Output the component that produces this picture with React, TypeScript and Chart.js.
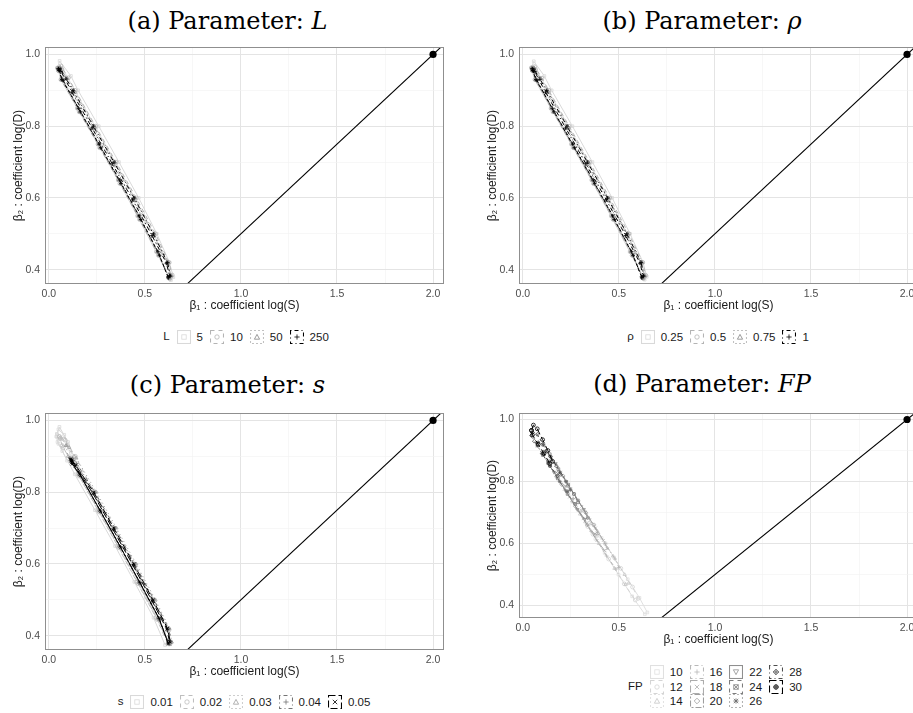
import React, { useEffect, useRef } from "react";
import { Chart, registerables } from "chart.js";

Chart.register(...registerables);

type Pt = [number, number];

// ---------- axes ----------
const X_LIMITS = [-0.02, 2.057];
const Y_LIMITS = [0.36, 1.02];
const X_MAJOR_TICKS = [0, 0.5, 1.0, 1.5, 2.0];
const X_MINOR_TICKS = [0.25, 0.75, 1.25, 1.75];
const Y_MAJOR_TICKS = [0.4, 0.6, 0.8, 1.0];
const Y_MINOR_TICKS = [0.5, 0.7, 0.9];
const X_AXIS_TITLE = "β₁ : coefficient log(S)";
const Y_AXIS_TITLE = "β₂ : coefficient log(D)";

// ---------- reference line beta2 = beta1 / 2 and true value ----------
const REF_LINE_X = [0.5, 2.2];
const REF_LINE_Y = [0.25, 1.1];
const TRUE_BETA1 = [2.0];
const TRUE_BETA2 = [1.0];

// ---------- (a) parameter L ----------
const L_LEVELS = ["5", "10", "50", "250"];
const L_HULL_5A: Pt[] = [[0.045,0.963],[0.056,0.982],[0.115,0.94],[0.152,0.9],[0.26,0.8],[0.365,0.7],[0.468,0.6],[0.562,0.5],[0.628,0.42],[0.648,0.379],[0.636,0.371],[0.558,0.45],[0.46,0.55],[0.36,0.65],[0.255,0.75],[0.148,0.85],[0.062,0.93]];
const L_HULL_5B: Pt[] = [[0.05,0.958],[0.07,0.962],[0.14,0.895],[0.245,0.795],[0.35,0.695],[0.452,0.595],[0.55,0.495],[0.62,0.415],[0.64,0.38],[0.628,0.376],[0.575,0.44],[0.475,0.545],[0.372,0.645],[0.268,0.745],[0.162,0.845],[0.07,0.935]];
const L_HULL_10A: Pt[] = [[0.046,0.962],[0.063,0.968],[0.102,0.935],[0.137,0.9],[0.243,0.8],[0.35,0.7],[0.455,0.6],[0.555,0.5],[0.626,0.42],[0.642,0.385],[0.63,0.374],[0.562,0.45],[0.464,0.55],[0.362,0.65],[0.256,0.75],[0.149,0.85],[0.063,0.93]];
const L_HULL_10B: Pt[] = [[0.05,0.955],[0.068,0.958],[0.128,0.895],[0.235,0.795],[0.34,0.695],[0.445,0.595],[0.545,0.495],[0.618,0.418],[0.636,0.382],[0.626,0.378],[0.57,0.44],[0.472,0.54],[0.37,0.64],[0.265,0.74],[0.158,0.84],[0.07,0.93]];
const L_HULL_50A: Pt[] = [[0.048,0.962],[0.059,0.964],[0.094,0.933],[0.13,0.9],[0.236,0.8],[0.343,0.7],[0.448,0.6],[0.548,0.5],[0.622,0.42],[0.636,0.383],[0.625,0.376],[0.566,0.45],[0.468,0.55],[0.366,0.65],[0.26,0.75],[0.153,0.85],[0.066,0.93]];
const L_HULL_50B: Pt[] = [[0.052,0.957],[0.064,0.955],[0.125,0.893],[0.23,0.793],[0.335,0.693],[0.44,0.593],[0.54,0.493],[0.615,0.418],[0.632,0.383],[0.622,0.379],[0.575,0.44],[0.476,0.54],[0.374,0.64],[0.268,0.74],[0.162,0.84],[0.072,0.928]];
const L_HULL_250A: Pt[] = [[0.05,0.96],[0.059,0.96],[0.09,0.932],[0.126,0.9],[0.232,0.8],[0.339,0.7],[0.444,0.6],[0.544,0.5],[0.618,0.42],[0.632,0.382],[0.622,0.377],[0.568,0.45],[0.47,0.55],[0.368,0.65],[0.262,0.75],[0.155,0.85],[0.068,0.93]];
const L_HULL_250B: Pt[] = [[0.053,0.956],[0.063,0.953],[0.12,0.895],[0.225,0.795],[0.33,0.695],[0.436,0.595],[0.537,0.495],[0.612,0.418],[0.628,0.383],[0.62,0.38],[0.576,0.44],[0.478,0.54],[0.376,0.64],[0.27,0.74],[0.164,0.84],[0.074,0.928]];

// ---------- (b) parameter rho ----------
const RHO_LEVELS = ["0.25", "0.5", "0.75", "1"];
const RHO_HULL_025A: Pt[] = [[0.044,0.962],[0.057,0.981],[0.112,0.94],[0.15,0.9],[0.258,0.8],[0.362,0.7],[0.465,0.6],[0.558,0.5],[0.626,0.42],[0.645,0.38],[0.634,0.372],[0.556,0.45],[0.458,0.55],[0.357,0.65],[0.252,0.75],[0.146,0.85],[0.061,0.93]];
const RHO_HULL_025B: Pt[] = [[0.049,0.957],[0.068,0.96],[0.137,0.895],[0.242,0.795],[0.347,0.695],[0.45,0.595],[0.548,0.495],[0.618,0.415],[0.638,0.381],[0.627,0.377],[0.573,0.44],[0.473,0.545],[0.37,0.645],[0.266,0.745],[0.16,0.845],[0.069,0.934]];
const RHO_HULL_05A: Pt[] = [[0.046,0.963],[0.061,0.966],[0.1,0.934],[0.135,0.9],[0.241,0.8],[0.347,0.7],[0.452,0.6],[0.552,0.5],[0.624,0.42],[0.64,0.384],[0.628,0.375],[0.56,0.45],[0.462,0.55],[0.36,0.65],[0.254,0.75],[0.147,0.85],[0.064,0.93]];
const RHO_HULL_05B: Pt[] = [[0.05,0.955],[0.066,0.957],[0.126,0.895],[0.233,0.795],[0.338,0.695],[0.443,0.595],[0.543,0.495],[0.616,0.418],[0.634,0.382],[0.624,0.378],[0.569,0.44],[0.47,0.54],[0.368,0.64],[0.263,0.74],[0.157,0.84],[0.07,0.93]];
const RHO_HULL_075A: Pt[] = [[0.047,0.962],[0.058,0.963],[0.093,0.933],[0.128,0.9],[0.234,0.8],[0.34,0.7],[0.445,0.6],[0.545,0.5],[0.62,0.42],[0.634,0.383],[0.624,0.376],[0.564,0.45],[0.466,0.55],[0.364,0.65],[0.258,0.75],[0.151,0.85],[0.066,0.93]];
const RHO_HULL_075B: Pt[] = [[0.051,0.956],[0.063,0.954],[0.123,0.893],[0.228,0.793],[0.333,0.693],[0.438,0.593],[0.538,0.493],[0.613,0.418],[0.63,0.383],[0.62,0.379],[0.573,0.44],[0.474,0.54],[0.372,0.64],[0.266,0.74],[0.16,0.84],[0.071,0.928]];
const RHO_HULL_1A: Pt[] = [[0.049,0.96],[0.058,0.959],[0.089,0.931],[0.124,0.9],[0.23,0.8],[0.336,0.7],[0.441,0.6],[0.541,0.5],[0.616,0.42],[0.629,0.382],[0.62,0.377],[0.566,0.45],[0.468,0.55],[0.366,0.65],[0.26,0.75],[0.153,0.85],[0.068,0.93]];
const RHO_HULL_1B: Pt[] = [[0.052,0.955],[0.062,0.952],[0.118,0.895],[0.223,0.795],[0.328,0.695],[0.434,0.595],[0.535,0.495],[0.61,0.418],[0.626,0.383],[0.618,0.38],[0.574,0.44],[0.476,0.54],[0.374,0.64],[0.268,0.74],[0.162,0.84],[0.073,0.928]];

// ---------- (c) parameter s ----------
const S_LEVELS = ["0.01", "0.02", "0.03", "0.04", "0.05"];
const S_HULL_001A: Pt[] = [[0.042,0.962],[0.055,0.982],[0.1,0.94],[0.13,0.9],[0.212,0.8],[0.315,0.7],[0.418,0.6],[0.515,0.5],[0.6,0.41],[0.625,0.378],[0.605,0.374],[0.545,0.45],[0.445,0.55],[0.345,0.65],[0.24,0.75],[0.135,0.85],[0.05,0.935]];
const S_HULL_001B: Pt[] = [[0.04,0.955],[0.05,0.975],[0.08,0.96],[0.1,0.93],[0.112,0.9],[0.095,0.888],[0.07,0.915],[0.045,0.94]];
const S_HULL_002A: Pt[] = [[0.055,0.955],[0.085,0.945],[0.138,0.9],[0.236,0.8],[0.34,0.7],[0.445,0.6],[0.545,0.5],[0.625,0.415],[0.635,0.38],[0.62,0.378],[0.558,0.45],[0.458,0.55],[0.358,0.65],[0.255,0.75],[0.152,0.85],[0.07,0.93]];
const S_HULL_002B: Pt[] = [[0.06,0.95],[0.078,0.948],[0.13,0.897],[0.23,0.797],[0.334,0.697],[0.438,0.597],[0.538,0.497],[0.618,0.417],[0.63,0.382],[0.622,0.38],[0.565,0.445],[0.465,0.545],[0.365,0.645],[0.262,0.745],[0.158,0.845],[0.075,0.925]];
const S_HULL_003A: Pt[] = [[0.09,0.93],[0.105,0.925],[0.143,0.895],[0.248,0.8],[0.352,0.7],[0.455,0.6],[0.555,0.5],[0.628,0.42],[0.64,0.382],[0.63,0.375],[0.568,0.45],[0.468,0.55],[0.366,0.65],[0.262,0.75],[0.157,0.85],[0.1,0.9]];
const S_HULL_004A: Pt[] = [[0.11,0.895],[0.122,0.895],[0.145,0.88],[0.24,0.8],[0.345,0.7],[0.448,0.6],[0.548,0.5],[0.624,0.42],[0.636,0.383],[0.626,0.376],[0.57,0.45],[0.47,0.55],[0.368,0.65],[0.264,0.75],[0.159,0.85],[0.115,0.885]];
const S_HULL_004B: Pt[] = [[0.115,0.89],[0.124,0.888],[0.14,0.875],[0.235,0.795],[0.34,0.695],[0.443,0.595],[0.543,0.495],[0.619,0.418],[0.632,0.384],[0.624,0.38],[0.575,0.445],[0.475,0.545],[0.373,0.645],[0.269,0.745],[0.164,0.845],[0.12,0.882]];
const S_HULL_005A: Pt[] = [[0.113,0.892],[0.12,0.89],[0.14,0.875],[0.234,0.8],[0.338,0.7],[0.442,0.6],[0.542,0.5],[0.618,0.42],[0.632,0.382],[0.622,0.377],[0.572,0.45],[0.472,0.55],[0.37,0.65],[0.266,0.75],[0.161,0.85],[0.118,0.882]];
const S_HULL_005B: Pt[] = [[0.117,0.887],[0.123,0.885],[0.137,0.872],[0.23,0.796],[0.334,0.696],[0.438,0.596],[0.538,0.496],[0.614,0.418],[0.628,0.384],[0.62,0.38],[0.576,0.446],[0.476,0.546],[0.374,0.646],[0.27,0.746],[0.165,0.846],[0.121,0.878]];

// ---------- (d) parameter FP ----------
const FP_LEVELS = ["10", "12", "14", "16", "18", "20", "22", "24", "26", "28", "30"];
const FP_HULL_10: Pt[] = [[0.385,0.625],[0.41,0.618],[0.475,0.555],[0.546,0.485],[0.607,0.425],[0.648,0.378],[0.635,0.372],[0.569,0.43],[0.498,0.5],[0.426,0.57],[0.378,0.615]];
const FP_HULL_12: Pt[] = [[0.345,0.665],[0.37,0.66],[0.429,0.6],[0.51,0.52],[0.571,0.46],[0.6,0.423],[0.585,0.418],[0.528,0.47],[0.447,0.55],[0.365,0.63],[0.338,0.655]];
const FP_HULL_14: Pt[] = [[0.302,0.705],[0.33,0.7],[0.388,0.64],[0.469,0.56],[0.53,0.5],[0.55,0.472],[0.535,0.468],[0.477,0.52],[0.396,0.6],[0.325,0.67],[0.298,0.695]];
const FP_HULL_16: Pt[] = [[0.262,0.745],[0.29,0.738],[0.347,0.68],[0.429,0.6],[0.48,0.55],[0.5,0.523],[0.485,0.518],[0.436,0.56],[0.355,0.64],[0.284,0.71],[0.256,0.735]];
const FP_HULL_18: Pt[] = [[0.222,0.785],[0.25,0.778],[0.307,0.72],[0.378,0.65],[0.419,0.61],[0.44,0.583],[0.425,0.578],[0.386,0.61],[0.314,0.68],[0.243,0.75],[0.216,0.775]];
const FP_HULL_20: Pt[] = [[0.18,0.826],[0.21,0.818],[0.266,0.76],[0.327,0.7],[0.368,0.66],[0.39,0.633],[0.375,0.628],[0.335,0.66],[0.274,0.72],[0.203,0.79],[0.175,0.815]];
const FP_HULL_22: Pt[] = [[0.14,0.866],[0.17,0.858],[0.225,0.8],[0.286,0.74],[0.317,0.71],[0.338,0.683],[0.323,0.678],[0.284,0.71],[0.223,0.77],[0.162,0.83],[0.135,0.855]];
const FP_HULL_24: Pt[] = [[0.11,0.896],[0.14,0.888],[0.185,0.84],[0.236,0.79],[0.266,0.76],[0.288,0.733],[0.272,0.728],[0.233,0.76],[0.182,0.81],[0.131,0.86],[0.105,0.885]];
const FP_HULL_26: Pt[] = [[0.08,0.926],[0.108,0.918],[0.144,0.88],[0.195,0.83],[0.225,0.8],[0.247,0.773],[0.231,0.768],[0.192,0.8],[0.142,0.85],[0.101,0.89],[0.075,0.915]];
const FP_HULL_28: Pt[] = [[0.05,0.958],[0.075,0.952],[0.103,0.92],[0.144,0.88],[0.175,0.85],[0.196,0.823],[0.18,0.818],[0.142,0.85],[0.101,0.89],[0.06,0.93],[0.045,0.948]];
const FP_HULL_30: Pt[] = [[0.045,0.965],[0.055,0.982],[0.075,0.97],[0.103,0.935],[0.13,0.9],[0.155,0.865],[0.14,0.858],[0.11,0.89],[0.08,0.92],[0.05,0.95]];

// ---------- styles ----------
const GREYS_4 = ["#d9d9d9", "#b4b4b4", "#848484", "#000000"];
const GREYS_5 = ["#d9d9d9", "#bebebe", "#9e9e9e", "#747474", "#000000"];
const GREYS_11 = ["#e0e0e0", "#d4d4d4", "#c6c6c6", "#b8b8b8", "#acacac", "#9e9e9e", "#8f8f8f", "#7d7d7d", "#686868", "#4c4c4c", "#000000"];
const SOLID: number[] = [];
const DASHED = [4, 4];
const DOTTED = [1, 3];
const DOTDASH = [1, 3, 4, 3];
const LONGDASH = [7, 3];
const TWODASH = [2, 2, 6, 2];
const LTY_4 = [SOLID, DASHED, DOTTED, DOTDASH];
const LTY_5 = [SOLID, DASHED, DOTTED, DOTDASH, LONGDASH];
const LTY_11 = [SOLID, DASHED, DOTTED, DOTDASH, LONGDASH, TWODASH, SOLID, DASHED, DOTTED, DOTDASH, LONGDASH];
const SHAPES = ["square", "circle", "triangle", "plus", "cross", "diamond", "triangleDown", "squareCross", "asterisk", "diamondPlus", "circlePlus"];

const SANS = "'Liberation Sans', Arial, 'DejaVu Sans', sans-serif";
Chart.defaults.font.family = SANS;

function chartPointStyle(shape: string): any {
  switch (shape) {
    case "square": return "rect";
    case "circle": return "circle";
    case "triangle": return "triangle";
    case "plus": return "cross";
    case "cross": return "crossRot";
    case "diamond": return "rectRot";
    case "triangleDown": return "triangle";
    case "squareCross": return "rect";
    case "asterisk": return "star";
    case "diamondPlus": return "rectRot";
    case "circlePlus": return "circle";
  }
  return "circle";
}

interface Group { hulls: Pt[][] }

const panelBorder = {
  id: "panelBorder",
  afterDatasetsDraw(chart: any) {
    const { ctx, chartArea } = chart;
    const { left, top, right, bottom } = chartArea;
    ctx.save();
    ctx.strokeStyle = "#8f8f8f";
    ctx.lineWidth = 1;
    ctx.strokeRect(Math.round(left) + 0.5, Math.round(top) + 0.5, Math.round(right - left) - 1, Math.round(bottom - top) - 1);
    ctx.restore();
  },
};

const isIn = (arr: number[], v: number) => arr.some((a) => Math.abs(a - v) < 1e-9);

function PanelChart(props: { left: number; top: number; height: number; groups: Group[]; colors: string[]; dashes: number[][] }) {
  const ref = useRef<HTMLCanvasElement>(null);
  const { left, top, height, groups, colors, dashes } = props;
  useEffect(() => {
    const datasets: any[] = [];
    const n = groups.length;
    groups.forEach((g, gi) => {
      g.hulls.forEach((h) => {
        datasets.push({
          data: [...h, h[0]].map(([x, y]) => ({ x, y })),
          showLine: true,
          borderColor: colors[gi],
          borderWidth: 1,
          borderDash: dashes[gi],
          tension: 0,
          fill: false,
          pointStyle: chartPointStyle(SHAPES[gi]),
          pointRotation: SHAPES[gi] === "triangleDown" ? 180 : 0,
          pointRadius: 1.9,
          pointBorderWidth: 0.8,
          pointBorderColor: colors[gi],
          pointBackgroundColor: "rgba(0,0,0,0)",
          order: n - gi + 1,
        });
      });
    });
    datasets.push({
      data: REF_LINE_X.map((x, i) => ({ x, y: REF_LINE_Y[i] })),
      showLine: true,
      borderColor: "#000000",
      borderWidth: 1.1,
      pointRadius: 0,
      order: 0,
    });
    datasets.push({
      data: TRUE_BETA1.map((x, i) => ({ x, y: TRUE_BETA2[i] })),
      showLine: false,
      pointRadius: 3.6,
      pointBackgroundColor: "#000000",
      pointBorderColor: "#000000",
      pointBorderWidth: 0,
      order: 0,
    });
    const grid = (major: number[]) => ({
      drawTicks: false,
      color: (c: any) => (c.tick && isIn(major, c.tick.value) ? "#e4e4e4" : "#f1f1f1"),
      lineWidth: (c: any) => (c.tick && isIn(major, c.tick.value) ? 1 : 0.6),
    });
    const chart = new Chart(ref.current as HTMLCanvasElement, {
      type: "scatter",
      data: { datasets },
      options: {
        animation: false,
        responsive: false,
        maintainAspectRatio: false,
        devicePixelRatio: 1,
        events: [],
        layout: { padding: { left: 0, right: 16, top: 5, bottom: 0 } },
        plugins: { legend: { display: false }, tooltip: { enabled: false }, title: { display: false } },
        scales: {
          x: {
            type: "linear",
            min: X_LIMITS[0],
            max: X_LIMITS[1],
            afterBuildTicks: (s: any) => { s.ticks = [...X_MAJOR_TICKS, ...X_MINOR_TICKS].sort((a, b) => a - b).map((v) => ({ value: v })); },
            afterFit: (s: any) => { s.height = 32; },
            border: { display: false },
            grid: grid(X_MAJOR_TICKS),
            ticks: {
              autoSkip: false,
              maxRotation: 0,
              padding: 4,
              color: "#4d4d4d",
              font: { size: 10.5 },
              callback: (v: any) => (isIn(X_MAJOR_TICKS, Number(v)) ? Number(v).toFixed(1) : ""),
            },
            title: { display: true, text: X_AXIS_TITLE, color: "#1a1a1a", font: { size: 12 }, padding: { top: 0, bottom: 3 } },
          },
          y: {
            type: "linear",
            min: Y_LIMITS[0],
            max: Y_LIMITS[1],
            afterBuildTicks: (s: any) => { s.ticks = [...Y_MAJOR_TICKS, ...Y_MINOR_TICKS].sort((a, b) => a - b).map((v) => ({ value: v })); },
            afterFit: (s: any) => { s.width = 45; },
            border: { display: false },
            grid: grid(Y_MAJOR_TICKS),
            ticks: {
              autoSkip: false,
              padding: 5,
              color: "#4d4d4d",
              font: { size: 10.5 },
              callback: (v: any) => (isIn(Y_MAJOR_TICKS, Number(v)) ? Number(v).toFixed(1) : ""),
            },
            title: { display: true, text: Y_AXIS_TITLE, color: "#1a1a1a", font: { size: 12 }, padding: { top: 11, bottom: 0 } },
          },
        },
      } as any,
      plugins: [panelBorder],
    });
    return () => chart.destroy();
  }, []);
  return (
    <canvas
      ref={ref}
      width={460}
      height={height}
      style={{ position: "absolute", left, top, width: 460, height }}
    />
  );
}

function KeyMarker({ shape, color }: { shape: string; color: string }) {
  const c = 7, r = 2.2;
  const st = { stroke: color, strokeWidth: 0.8, fill: "none" };
  const plus = `M${c - r - 0.4} ${c}H${c + r + 0.4}M${c} ${c - r - 0.4}V${c + r + 0.4}`;
  const diag = `M${c - r} ${c - r}L${c + r} ${c + r}M${c - r} ${c + r}L${c + r} ${c - r}`;
  const diamond = `${c},${c - r - 0.6} ${c + r + 0.6},${c} ${c},${c + r + 0.6} ${c - r - 0.6},${c}`;
  switch (shape) {
    case "square": return <rect x={c - r} y={c - r} width={2 * r} height={2 * r} {...st} />;
    case "circle": return <circle cx={c} cy={c} r={r} {...st} />;
    case "triangle": return <polygon points={`${c},${c - r - 0.4} ${c + r + 0.4},${c + r} ${c - r - 0.4},${c + r}`} {...st} />;
    case "triangleDown": return <polygon points={`${c},${c + r + 0.4} ${c + r + 0.4},${c - r} ${c - r - 0.4},${c - r}`} {...st} />;
    case "plus": return <path d={plus} {...st} />;
    case "cross": return <path d={diag} {...st} />;
    case "diamond": return <polygon points={diamond} {...st} />;
    case "squareCross": return <g><rect x={c - r} y={c - r} width={2 * r} height={2 * r} {...st} /><path d={diag} {...st} /></g>;
    case "asterisk": return <path d={plus + diag} {...st} />;
    case "diamondPlus": return <g><polygon points={diamond} {...st} /><path d={plus} {...st} /></g>;
    case "circlePlus": return <g><circle cx={c} cy={c} r={r} {...st} /><path d={plus} {...st} /></g>;
  }
  return null;
}

function Key({ color, dash, shape }: { color: string; dash: number[]; shape: string }) {
  return (
    <svg width={14} height={14} style={{ display: "block", flex: "none" }}>
      <rect x={0.5} y={0.5} width={13} height={13} fill="#ffffff" stroke={color} strokeWidth={1.1} strokeDasharray={dash.length ? dash.join(" ") : undefined} />
      <KeyMarker shape={shape} color={color} />
    </svg>
  );
}

function Legend(props: { title: string; labels: string[]; colors: string[]; dashes: number[][]; rows: number; left: number; width: number; top: number; rowH: number }) {
  const { title, labels, colors, dashes, rows, left, width, top, rowH } = props;
  const cols = Math.ceil(labels.length / rows);
  const columns: number[][] = [];
  for (let c = 0; c < cols; c++) {
    const col: number[] = [];
    for (let r = 0; r < rows; r++) {
      const i = c * rows + r;
      if (i < labels.length) col.push(i);
    }
    columns.push(col);
  }
  return (
    <div style={{ position: "absolute", left, width, top, height: rows * rowH, display: "flex", justifyContent: "center", alignItems: "center", fontFamily: SANS, fontSize: 11.5, color: "#1a1a1a" }}>
      <div style={{ marginRight: 7, lineHeight: `${rowH}px` }}>{title}</div>
      {columns.map((col, ci) => (
        <div key={ci} style={{ display: "flex", flexDirection: "column", alignSelf: "flex-start" }}>
          {col.map((i) => (
            <div key={i} style={{ display: "flex", alignItems: "center", height: rowH }}>
              <Key color={colors[i]} dash={dashes[i]} shape={SHAPES[i]} />
              <span style={{ marginLeft: 6, marginRight: 7, whiteSpace: "nowrap" }}>{labels[i]}</span>
            </div>
          ))}
        </div>
      ))}
    </div>
  );
}

function Title({ left, centerY, children }: { left: number; centerY: number; children: any }) {
  return (
    <div style={{ position: "absolute", left, width: 455, top: centerY - 16, height: 32, lineHeight: "32px", textAlign: "center", fontFamily: "'DejaVu Serif', 'Liberation Serif', serif", fontSize: 24, color: "#000", whiteSpace: "nowrap" }}>
      {children}
    </div>
  );
}

const GROUPS_L: Group[] = [{ hulls: [L_HULL_5A, L_HULL_5B] }, { hulls: [L_HULL_10A, L_HULL_10B] }, { hulls: [L_HULL_50A, L_HULL_50B] }, { hulls: [L_HULL_250A, L_HULL_250B] }];
const GROUPS_RHO: Group[] = [{ hulls: [RHO_HULL_025A, RHO_HULL_025B] }, { hulls: [RHO_HULL_05A, RHO_HULL_05B] }, { hulls: [RHO_HULL_075A, RHO_HULL_075B] }, { hulls: [RHO_HULL_1A, RHO_HULL_1B] }];
const GROUPS_S: Group[] = [{ hulls: [S_HULL_001A, S_HULL_001B] }, { hulls: [S_HULL_002A, S_HULL_002B] }, { hulls: [S_HULL_003A] }, { hulls: [S_HULL_004A, S_HULL_004B] }, { hulls: [S_HULL_005A, S_HULL_005B] }];
const GROUPS_FP: Group[] = [FP_HULL_10, FP_HULL_12, FP_HULL_14, FP_HULL_16, FP_HULL_18, FP_HULL_20, FP_HULL_22, FP_HULL_24, FP_HULL_26, FP_HULL_28, FP_HULL_30].map((h) => ({ hulls: [h] }));

export default function App() {
  return (
    <div style={{ position: "fixed", left: 0, top: 0, width: 913, height: 713, overflow: "hidden", background: "#ffffff" }}>
      <Title left={0} centerY={20.5}>(a) Parameter: <i>L</i></Title>
      <PanelChart left={0} top={36} height={280} groups={GROUPS_L} colors={GREYS_4} dashes={LTY_4} />
      <Legend title="L" labels={L_LEVELS} colors={GREYS_4} dashes={LTY_4} rows={1} left={50} width={399} top={329} rowH={15} />

      <Title left={474.5} centerY={20.5}>(b) Parameter: <i>ρ</i></Title>
      <PanelChart left={474} top={36} height={280} groups={GROUPS_RHO} colors={GREYS_4} dashes={LTY_4} />
      <Legend title="ρ" labels={RHO_LEVELS} colors={GREYS_4} dashes={LTY_4} rows={1} left={522} width={399} top={329} rowH={15} />

      <Title left={0} centerY={385}>(c) Parameter: <i>s</i></Title>
      <PanelChart left={0} top={402} height={280} groups={GROUPS_S} colors={GREYS_5} dashes={LTY_5} />
      <Legend title="s" labels={S_LEVELS} colors={GREYS_5} dashes={LTY_5} rows={1} left={48} width={399} top={694} rowH={15} />

      <Title left={474.5} centerY={383.5}>(d) Parameter: <i>FP</i></Title>
      <PanelChart left={474} top={402} height={248} groups={GROUPS_FP} colors={GREYS_11} dashes={LTY_11} />
      <Legend title="FP" labels={FP_LEVELS} colors={GREYS_11} dashes={LTY_11} rows={3} left={519} width={399} top={664.5} rowH={14.7} />
    </div>
  );
}
